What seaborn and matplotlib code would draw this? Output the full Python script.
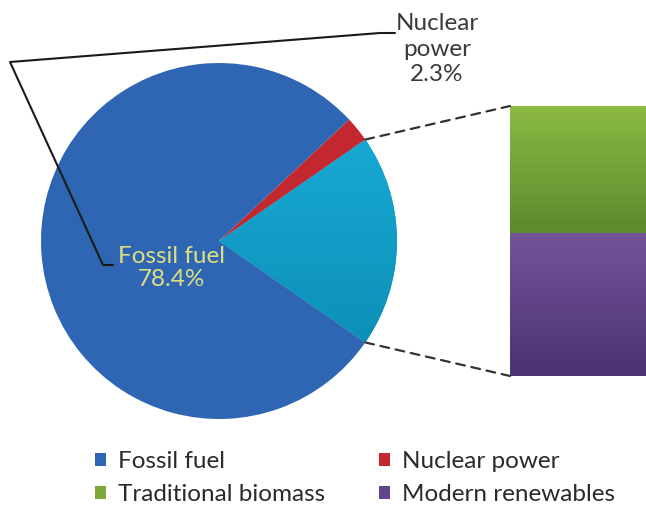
import numpy as np
import matplotlib
matplotlib.use("Agg")
import matplotlib.pyplot as plt
from matplotlib.patches import Patch, ConnectionPatch
from matplotlib.lines import Line2D
from matplotlib.colors import LinearSegmentedColormap
import seaborn as sns

# ---- data ----
pie_labels = ["Other renewables", "Nuclear power", "Fossil fuel"]
pie_values = [19.3, 2.3, 78.4]
bar_labels = ["Modern renewables", "Traditional biomass"]
bar_values = [10.2, 9.1]
legend_labels = ["Fossil fuel", "Traditional biomass", "Nuclear power", "Modern renewables"]

# ---- style ----
sns.set_theme(style="white")
plt.rcParams['font.family'] = ['Lato', 'DejaVu Sans']

col_fossil = "#2f66b3"
col_nuclear = "#c3282e"
col_other = "#0ea3cf"
col_green = "#7ea83a"
col_purple = "#634589"

W, H = 646, 508
fig = plt.figure(figsize=(W / 100, H / 100), dpi=100)
fig.patch.set_facecolor("white")

def px2fig(x, y):
    return x / W, 1 - y / H

# pie axes: centre (219, 241) px, radius 178 px
cx, cy, r = 219, 241, 178
axp = fig.add_axes([(cx - r) / W, (H - cy - r) / H, 2 * r / W, 2 * r / H])
start = -pie_values[0] / 100 * 360 / 2
wedges, _ = axp.pie(pie_values, colors=[col_other, col_nuclear, col_fossil],
                    startangle=start, counterclock=True, radius=1,
                    wedgeprops=dict(linewidth=0))
axp.set_xlim(-1, 1)
axp.set_ylim(-1, 1)
axp.set_aspect("equal")
axp.axis("off")

# gradient on the "other" wedge
grad = np.linspace(0, 1, 256).reshape(-1, 1)
cm_other = LinearSegmentedColormap.from_list("oth", ["#0a86ad", "#1ab3de"])
im = axp.imshow(grad, cmap=cm_other, extent=[-1, 1, -1, 1], origin="lower",
                aspect="auto", zorder=wedges[0].get_zorder() + 0.1)
im.set_clip_path(wedges[0])
axp.set_xlim(-1, 1)
axp.set_ylim(-1, 1)

# bar axes: x 510..646, y 106..376
bx0, bx1, by0, by1 = 510, 646, 106, 376
axb = fig.add_axes([bx0 / W, (H - by1) / H, (bx1 - bx0) / W, (by1 - by0) / H])
bottom = 0
bars = []
for val, c in zip(bar_values, [col_purple, col_green]):
    b = axb.bar([0], [val], bottom=bottom, width=1, color=c, linewidth=0)
    bars.append(b[0])
    bottom += val
axb.axis("off")

# gradients on bars
cm_p = LinearSegmentedColormap.from_list("p", ["#4b3272", "#735499"])
cm_g = LinearSegmentedColormap.from_list("g", ["#5c8a2d", "#8cba42"])
for bar, cm in zip(bars, [cm_p, cm_g]):
    x0, y0 = bar.get_x(), bar.get_y()
    im2 = axb.imshow(grad, cmap=cm, extent=[x0, x0 + bar.get_width(), y0, y0 + bar.get_height()],
                     origin="lower", aspect="auto", zorder=3)
    im2.set_clip_path(bar)
axb.set_xlim(-0.5, 0.5)
axb.set_ylim(0, sum(bar_values))

# dashed connector lines
t1 = np.deg2rad(wedges[0].theta1)
t2 = np.deg2rad(wedges[0].theta2)
for th, ybar in [(t2, sum(bar_values)), (t1, 0)]:
    con = ConnectionPatch(xyA=(np.cos(th), np.sin(th)), coordsA=axp.transData,
                          xyB=(-0.5, ybar), coordsB=axb.transData,
                          color="#333333", linestyle=(0, (4, 3)), linewidth=1.6)
    fig.add_artist(con)

# leader line for nuclear label (as drawn in the original)
pts = [(395, 33), (380, 33), (10, 62), (103, 265), (113, 265)]
xs, ys = zip(*[px2fig(x, y) for x, y in pts])
fig.add_artist(Line2D(xs, ys, transform=fig.transFigure, color="#1a1a1a", linewidth=1.5))

# labels
fs = 17.5
fx, fy = px2fig(171, 268)
fig.text(fx, fy, "Fossil fuel\n78.4%", ha="center", va="center", fontsize=fs,
         color="#dede82", linespacing=1.12)
nx, ny = px2fig(437, 49)
fig.text(nx, ny, "Nuclear\npower\n2.3%", ha="center", va="center", fontsize=fs,
         color="#3a3a3a", linespacing=1.25)

# legend
handles = [Patch(facecolor=c, edgecolor="none") for c in [col_fossil, col_green, col_nuclear, col_purple]]
lx, ly = px2fig(95, 478)
leg = fig.legend(handles, legend_labels, ncol=2, loc="center left", bbox_to_anchor=(lx, ly),
                 frameon=False, fontsize=fs, handlelength=0.45, handleheight=0.45,
                 handletextpad=0.5, columnspacing=2.2, labelspacing=0.5, borderpad=0,
                 borderaxespad=0, labelcolor="#2a2a2a")

fig.savefig("out.png", dpi=100, facecolor="white")
